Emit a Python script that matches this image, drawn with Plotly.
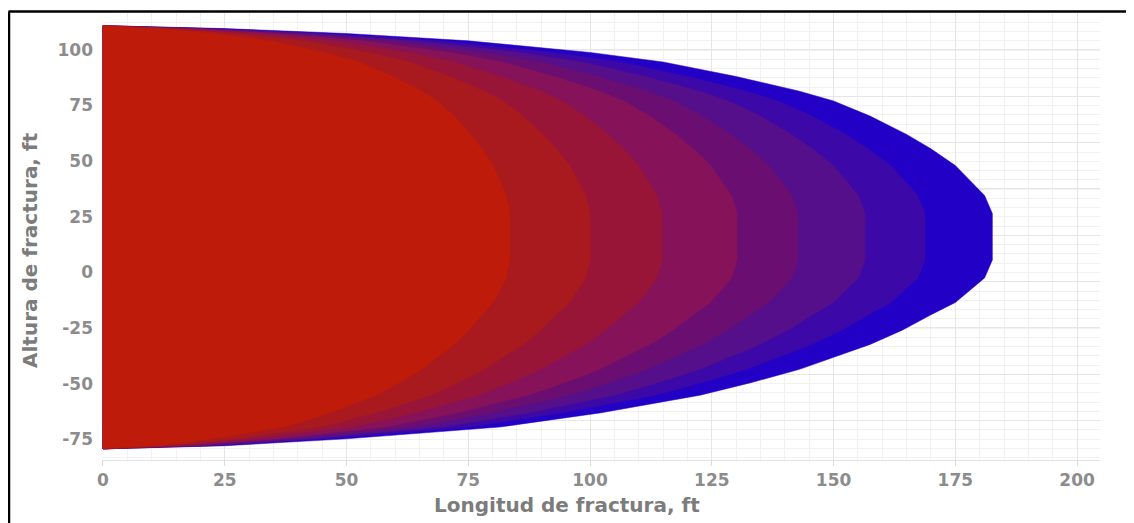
import plotly.graph_objects as go

# ---- data ----
# outer fracture front profile (largest band): heights (ft) and lengths (ft)
profile_y = [110.8, 109.5, 107.3, 104.0, 98.8, 94.5, 88.0, 81.4, 77.0, 70.2, 62.0, 55.5, 48.0,
             41.3, 34.6, 26.5,
             5.6, -2.5, -7.8, -13.5, -19.0, -26.0, -32.3, -38.0, -43.5, -49.5, -55.1, -63.1,
             -69.4, -74.7, -77.8, -79.2]
profile_x = [0, 25, 50, 75, 100, 115, 130, 143, 150, 157.5, 165, 170, 175,
             178, 181, 182.6,
             182.6, 181, 178, 175, 170, 164, 157.5, 150, 143, 133, 122.6, 102,
             81.5, 50, 25, 0]
# tip length of each successive fracture front (outermost first)
front_lengths = [182.6, 168.8, 156.5, 142.7, 130.2, 114.8, 100.0, 83.6]
front_colors = ["#2300C6", "#3C08A8", "#550F8A", "#6A0E72",
                "#86125A", "#991538", "#A81A1E", "#BE1B0A"]

x_ticks = [0, 25, 50, 75, 100, 125, 150, 175, 200]
y_ticks = [-75, -50, -25, 0, 25, 50, 75, 100]

x_title = "Longitud de fractura, ft"
y_title = "Altura de fractura, ft"

# ---- figure ----
# the page body has an 8px margin, so the figure is drawn at (8, 8)
OFF = 8
W, H = 1134 - OFF, 523 - OFF
L, R, T, B = 102 - OFF, 34, 13 - OFF, 63

fig = go.Figure()
outer = max(front_lengths)
for length, color in zip(front_lengths, front_colors):
    scale = length / outer
    fig.add_trace(go.Scatter(
        x=[v * scale for v in profile_x] + [profile_x[0] * scale],
        y=profile_y + [profile_y[0]],
        mode="lines", fill="toself", fillcolor=color,
        line=dict(color=color, width=0.5),
        hoverinfo="skip", showlegend=False,
    ))

# invisible trace for the grid axis
fig.add_trace(go.Scatter(x=[0], y=[0], yaxis="y2", mode="markers",
                         marker=dict(opacity=0), hoverinfo="skip", showlegend=False))

FONT = "DejaVu Sans, Verdana, sans-serif"
tick_font = dict(family=FONT, size=17, color="#8c8c8c", weight="bold")
title_font = dict(family=FONT, size=20, color="#7c7c7c", weight="bold")

fig.update_layout(
    width=W, height=H,
    margin=dict(l=L, r=R, t=T, b=B, autoexpand=False),
    paper_bgcolor="white", plot_bgcolor="white",
    xaxis=dict(
        range=[-0.2, 204.7], tickvals=x_ticks, ticktext=[str(v) for v in x_ticks],
        showgrid=True, gridcolor="#e6e6e6", gridwidth=1,
        minor=dict(dtick=5, showgrid=True, gridcolor="#f1f1f1", gridwidth=1),
        zeroline=False, showline=True, linecolor="#e3e3e3", linewidth=1,
        ticks="outside", ticklen=5, tickcolor="#dcdcdc",
        tickfont=tick_font, automargin=False,
    ),
    yaxis=dict(
        range=[-84.2, 116.5], tickvals=y_ticks, ticktext=[str(v) for v in y_ticks],
        showgrid=False, zeroline=False, showline=False,
        tickfont=tick_font, ticks="", ticklabelstandoff=8, automargin=False,
    ),
    yaxis2=dict(
        overlaying="y", range=[-84.2, 116.5], tick0=100, dtick=20.8,
        showticklabels=False, showgrid=True, gridcolor="#e6e6e6", zeroline=False,
        minor=dict(dtick=4.16, showgrid=True, gridcolor="#f1f1f1"),
        layer="below traces",
    ),
)

plot_w = W - L - R
plot_h = H - T - B
def px_x(px):
    return (px - OFF - L) / plot_w
def px_y(py):
    return (OFF + H - B - py) / plot_h

# axis titles placed where the reference shows them
fig.add_annotation(text=x_title, xref="paper", yref="paper",
                   x=px_x(567), y=px_y(505), xanchor="center", yanchor="middle",
                   showarrow=False, font=title_font)
fig.add_annotation(text=y_title, xref="paper", yref="paper", textangle=-90,
                   x=px_x(30), y=px_y(250), xanchor="center", yanchor="middle",
                   showarrow=False, font=title_font)

# black frame (left and top edges visible in the reference)
fig.add_shape(type="line", xref="paper", yref="paper",
              x0=px_x(8.5), x1=px_x(1140), y0=px_y(11.5), y1=px_y(11.5),
              line=dict(color="black", width=2.5), layer="above")
fig.add_shape(type="line", xref="paper", yref="paper",
              x0=px_x(9), x1=px_x(9), y0=px_y(11.5), y1=px_y(530),
              line=dict(color="black", width=2.5), layer="above")

fig.write_html("out.html")
